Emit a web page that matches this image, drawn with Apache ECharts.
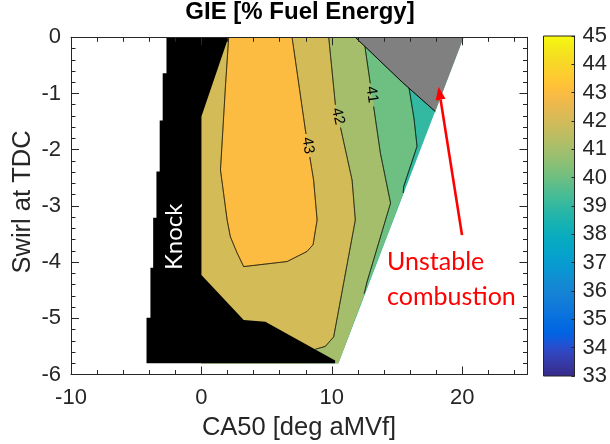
<!DOCTYPE html>
<html><head><meta charset="utf-8">
<script src="https://cdn.jsdelivr.net/npm/echarts@6/dist/echarts.min.js"></script>
<style>html,body{margin:0;padding:0;background:#fff}#c{width:610px;height:444px}</style>
</head><body><div id="c"></div>
<script>
// ---------------- data (x: CA50 [deg aMVf], y: swirl at TDC) ----------------
const xTickValues = [-10, 0, 10, 20];
const xLimits = [-10, 25];
const yTickValues = [0, -1, -2, -3, -4, -5, -6];
const colorbarTicks = [33, 34, 35, 36, 37, 38, 39, 40, 41, 42, 43, 44, 45];
const bandLevels = [39, 40, 41, 42, 43];
// outline of the measured operating area
const domainOutline = [[0, 0], [20.1, 0], [10.5, -5.8], [0, -5.8]];
// iso-GIE contour lines
const contour40 = [[15.6, 0], [15.9, -0.88], [16.3, -1.45], [16.53, -1.94], [15.5, -2.66], [15.47, -2.77]];
const contour41 = [[12.45, 0], [12.57, -0.22], [13.72, -2.06], [14.5, -2.95], [12.7, -4.35], [12.48, -4.56]];
const contour42 = [[9.76, 0], [10.27, -1.2], [10.65, -1.59], [11.55, -2.54], [11.8, -3.25], [10.14, -5.33], [9.5, -5.5], [8.74, -5.55]];
const contour43 = [[2.09, 0], [1.84, -0.88], [1.46, -2.36], [1.97, -3.25], [2.22, -3.55], [2.74, -3.84], [3.24, -4.08],
                   [6.57, -3.99], [8.1, -3.81], [8.56, -3.69], [8.87, -3.25], [8.6, -2.54], [7.97, -1.65], [6.95, 0]];
const contourLabelSpots = [[43, 8.05, -1.93], [42, 10.58, -1.40], [41, 13.14, -1.02]];
// knock-limited and unstable-combustion areas
const knockOutline = [[-2.68, 0], [2.07, 0], [0, -1.41], [0, -4.23], [3.24, -5.03], [4.9, -5.06], [10.25, -5.75], [10.25, -5.8],
  [-4.21, -5.8], [-4.21, -4.99], [-3.91, -4.99], [-3.91, -4.1], [-3.70, -4.1], [-3.70, -3.21], [-3.45, -3.21],
  [-3.45, -2.39], [-3.2, -2.39], [-3.2, -1.48], [-2.97, -1.48], [-2.97, -0.64], [-2.68, -0.64]];
const unstableOutline = [[11.8, 0], [20.1, 0], [17.93, -1.32], [15.4, -0.8]];
const unstableEdge = [[11.8, 0], [15.4, -0.8], [17.93, -1.32]];
// annotation anchors (data coordinates)
const knockTextAt = [-2.07, -3.55];
const unstableTextAt = [14.23, -4.30];
const arrowFrom = [19.98, -3.52];
const arrowTo = [18.18, -0.88];

// ---------------- style ----------------
const parula = [[0.2081,0.1663,0.5292],[0.2116,0.1898,0.5777],[0.2123,0.2138,0.6270],[0.2081,0.2386,0.6771],[0.1959,0.2645,0.7279],[0.1707,0.2919,0.7792],[0.1253,0.3242,0.8303],[0.0591,0.3598,0.8683],[0.0117,0.3875,0.8820],[0.0060,0.4086,0.8828],[0.0165,0.4266,0.8786],[0.0329,0.4430,0.8720],[0.0498,0.4586,0.8641],[0.0629,0.4737,0.8554],[0.0723,0.4887,0.8467],[0.0779,0.5040,0.8384],[0.0793,0.5200,0.8312],[0.0749,0.5375,0.8263],[0.0641,0.5570,0.8240],[0.0488,0.5772,0.8228],[0.0343,0.5966,0.8199],[0.0265,0.6137,0.8135],[0.0239,0.6287,0.8038],[0.0231,0.6418,0.7913],[0.0228,0.6535,0.7768],[0.0267,0.6642,0.7607],[0.0384,0.6743,0.7436],[0.0590,0.6838,0.7254],[0.0843,0.6928,0.7062],[0.1133,0.7015,0.6859],[0.1453,0.7098,0.6646],[0.1801,0.7177,0.6424],[0.2178,0.7250,0.6193],[0.2586,0.7317,0.5954],[0.3022,0.7376,0.5712],[0.3482,0.7424,0.5473],[0.3953,0.7459,0.5244],[0.4420,0.7481,0.5033],[0.4871,0.7491,0.4840],[0.5300,0.7491,0.4661],[0.5709,0.7485,0.4494],[0.6099,0.7473,0.4337],[0.6473,0.7456,0.4188],[0.6834,0.7435,0.4044],[0.7184,0.7411,0.3905],[0.7525,0.7384,0.3768],[0.7858,0.7356,0.3633],[0.8185,0.7327,0.3498],[0.8507,0.7299,0.3360],[0.8824,0.7274,0.3217],[0.9139,0.7258,0.3063],[0.9450,0.7261,0.2886],[0.9739,0.7314,0.2666],[0.9938,0.7455,0.2403],[0.9990,0.7653,0.2164],[0.9955,0.7861,0.1967],[0.9880,0.8066,0.1794],[0.9789,0.8271,0.1633],[0.9697,0.8481,0.1475],[0.9626,0.8705,0.1309],[0.9589,0.8949,0.1132],[0.9598,0.9218,0.0948],[0.9661,0.9514,0.0755],[0.9763,0.9831,0.0538]];
const FONT = '"Liberation Sans", Arial, Helvetica, sans-serif';
const NOTE_FONT = 'Lato, "Open Sans", sans-serif';
const TXT = '#262626';
const cbMin = colorbarTicks[0], cbMax = colorbarTicks[colorbarTicks.length - 1];

function rgb(c) { return 'rgb(' + c.map(v => Math.round(v * 255)).join(',') + ')'; }
function levelColor(level) {
  const t = (level - cbMin) / (cbMax - cbMin) * (parula.length - 1);
  const i = Math.max(0, Math.min(parula.length - 2, Math.floor(t))), f = t - i;
  const a = parula[i], b = parula[i + 1];
  return rgb([0, 1, 2].map(k => a[k] + (b[k] - a[k]) * f));
}

const topLeft = domainOutline[0], botRight = domainOutline[2], botLeft = domainOutline[3];
const contours = { 40: contour40, 41: contour41, 42: contour42, 43: contour43 };
const regions = {
  39: domainOutline,
  40: [topLeft].concat(contour40, [botRight, botLeft]),
  41: [topLeft].concat(contour41, [botRight, botLeft]),
  42: [topLeft].concat(contour42, [[contour42[contour42.length - 1][0], botLeft[1]], botLeft]),
  43: contour43
};

function gappedRuns(pix, centers, r) {
  const runs = []; let cur = [];
  for (let i = 0; i < pix.length - 1; i++) {
    const a = pix[i], b = pix[i + 1];
    const n = Math.max(1, Math.ceil(Math.hypot(b[0] - a[0], b[1] - a[1]) / 0.5));
    for (let k = (i === 0 ? 0 : 1); k <= n; k++) {
      const t = k / n, p = [a[0] + (b[0] - a[0]) * t, a[1] + (b[1] - a[1]) * t];
      if (centers.some(c => Math.hypot(p[0] - c[0], p[1] - c[1]) < r)) { if (cur.length > 1) runs.push(cur); cur = []; }
      else cur.push(p);
    }
  }
  if (cur.length > 1) runs.push(cur);
  return runs;
}
function projectOnLine(pix, q) {
  let best = null;
  for (let i = 0; i < pix.length - 1; i++) {
    const a = pix[i], b = pix[i + 1], dx = b[0] - a[0], dy = b[1] - a[1];
    let t = ((q[0] - a[0]) * dx + (q[1] - a[1]) * dy) / (dx * dx + dy * dy);
    t = Math.max(0, Math.min(1, t));
    const p = [a[0] + dx * t, a[1] + dy * t], d = Math.hypot(p[0] - q[0], p[1] - q[1]);
    if (!best || d < best.d) best = { d, p, ang: Math.atan2(dy, dx) };
  }
  let ang = best.ang;
  if (ang > Math.PI / 2) ang -= Math.PI; if (ang < -Math.PI / 2) ang += Math.PI;
  return { p: best.p, rot: -ang };
}

function renderMain(params, api) {
  const ch = [];
  const P = arr => arr.map(p => api.coord(p));
  bandLevels.forEach(L => ch.push({ type: 'polygon', shape: { points: P(regions[L]) }, style: { fill: levelColor(L) } }));
  // contour lines with label gaps
  const labels = [];
  [40, 41, 42, 43].forEach(L => {
    const pix = P(contours[L]);
    const spots = contourLabelSpots.filter(s => s[0] === L).map(s => projectOnLine(pix, api.coord([s[1], s[2]])));
    spots.forEach(s => labels.push({ L, s }));
    gappedRuns(pix, spots.map(s => s.p), 11.5).forEach(run =>
      ch.push({ type: 'polyline', shape: { points: run }, style: { stroke: '#000', lineWidth: 1, fill: null } }));
  });
  labels.forEach(o => ch.push({ type: 'text', x: o.s.p[0], y: o.s.p[1], rotation: o.s.rot,
    style: { text: String(o.L), fill: '#000', fontSize: 15, fontFamily: FONT, align: 'center', verticalAlign: 'middle' } }));
  // overlays
  ch.push({ type: 'polygon', shape: { points: P(knockOutline) }, style: { fill: '#000' } });
  ch.push({ type: 'polygon', shape: { points: P(unstableOutline) }, style: { fill: '#808080' } });
  ch.push({ type: 'polyline', shape: { points: P(unstableEdge) }, style: { stroke: '#000', lineWidth: 1, fill: null } });
  const kp = api.coord(knockTextAt);
  ch.push({ type: 'text', x: kp[0], y: kp[1], rotation: Math.PI / 2,
    style: { text: 'Knock', fill: '#fff', fontSize: 24, fontFamily: NOTE_FONT, align: 'center', verticalAlign: 'middle' } });
  const up = api.coord(unstableTextAt);
  ch.push({ type: 'text', x: up[0], y: up[1],
    style: { text: 'Unstable\ncombustion', fill: '#ff0000', fontSize: 25, lineHeight: 35, fontFamily: NOTE_FONT, align: 'left', verticalAlign: 'middle' } });
  // arrow
  const a = api.coord(arrowFrom), b = api.coord(arrowTo);
  const len = Math.hypot(b[0] - a[0], b[1] - a[1]), ux = (b[0] - a[0]) / len, uy = (b[1] - a[1]) / len;
  const hl = 13, hw = 5;
  const base = [b[0] - ux * hl, b[1] - uy * hl];
  ch.push({ type: 'line', shape: { x1: a[0], y1: a[1], x2: base[0], y2: base[1] }, style: { stroke: '#ff0000', lineWidth: 2.6 } });
  ch.push({ type: 'polygon', shape: { points: [b, [base[0] - uy * hw, base[1] + ux * hw], [base[0] + uy * hw, base[1] - ux * hw]] }, style: { fill: '#ff0000' } });
  return { type: 'group', children: ch };
}

function renderColorbar(params, api) {
  const a = api.coord([0, cbMax]), b = api.coord([1, cbMin]);
  const stops = parula.map((c, i) => ({ offset: i / (parula.length - 1), color: rgb(c) }));
  return { type: 'rect', shape: { x: a[0], y: a[1], width: b[0] - a[0], height: b[1] - a[1] },
    style: { fill: new echarts.graphic.LinearGradient(0, 1, 0, 0, stops), stroke: TXT, lineWidth: 1 } };
}

const tickStyle = { color: TXT, width: 1 };
function xAx(pos, interval, len, withLine, withLabel) {
  return { gridIndex: 0, type: 'value', position: pos, min: xLimits[0], max: xLimits[1], interval: interval, z: 5,
    axisLine: { show: withLine, onZero: false, lineStyle: { color: TXT, width: 1 } },
    axisTick: { show: true, inside: true, length: len, lineStyle: tickStyle },
    axisLabel: { show: withLabel, fontSize: 22, color: TXT, fontFamily: FONT, margin: 12, showMaxLabel: false },
    splitLine: { show: false } };
}
function yAx(pos, withLabel) {
  return { gridIndex: 0, type: 'value', position: pos, min: yTickValues[yTickValues.length - 1], max: yTickValues[0],
    interval: yTickValues[0] - yTickValues[1], z: 5,
    axisLine: { show: true, onZero: false, lineStyle: { color: TXT, width: 1 } },
    axisTick: { show: true, inside: true, length: 8, lineStyle: tickStyle },
    minorTick: { show: true, splitNumber: 5, length: 4.5, lineStyle: tickStyle },
    axisLabel: { show: withLabel, fontSize: 22, color: TXT, fontFamily: FONT, margin: 10 },
    splitLine: { show: false } };
}
const xMajor = xTickValues[1] - xTickValues[0];

const chart = echarts.init(document.getElementById('c'));
chart.setOption({
  animation: false,
  backgroundColor: '#fff',
  grid: [
    { left: 71, top: 37.3, width: 456.5, height: 337.2 },
    { left: 543.5, top: 36, width: 32.5, height: 340 }
  ],
  xAxis: [
    xAx('bottom', xMajor, 8, true, true),
    xAx('bottom', xMajor / 5, 4.5, false, false),
    xAx('top', xMajor, 8, true, false),
    xAx('top', xMajor / 5, 4.5, false, false),
    { gridIndex: 1, type: 'value', min: 0, max: 1, show: false }
  ],
  yAxis: [
    yAx('left', true),
    yAx('right', false),
    { gridIndex: 1, type: 'value', position: 'right', min: cbMin, max: cbMax, interval: 1, z: 5,
      axisLine: { show: true, onZero: false, lineStyle: { color: TXT, width: 1 } },
      axisTick: { show: true, inside: true, length: 3, lineStyle: tickStyle },
      axisLabel: { fontSize: 22, color: TXT, fontFamily: FONT, margin: 8 },
      splitLine: { show: false } }
  ],
  graphic: [
    { type: 'text', x: 300, y: 12.5, style: { text: 'GIE [% Fuel Energy]', fill: '#000', fontSize: 24, fontWeight: 'bold', fontFamily: FONT, align: 'center', verticalAlign: 'middle' } },
    { type: 'text', x: 299, y: 428, style: { text: 'CA50 [deg aMVf]', fill: TXT, fontSize: 25.5, fontFamily: FONT, align: 'center', verticalAlign: 'middle' } },
    { type: 'text', x: 23, y: 202, rotation: Math.PI / 2, style: { text: 'Swirl at TDC', fill: TXT, fontSize: 25.5, fontFamily: FONT, align: 'center', verticalAlign: 'middle' } }
  ],
  series: [
    { type: 'custom', xAxisIndex: 0, yAxisIndex: 0, data: [[0, 0]], renderItem: renderMain, silent: true, z: 2 },
    { type: 'custom', xAxisIndex: 4, yAxisIndex: 2, data: [[0, cbMin]], renderItem: renderColorbar, silent: true, z: 2 }
  ]
});
</script></body></html>
